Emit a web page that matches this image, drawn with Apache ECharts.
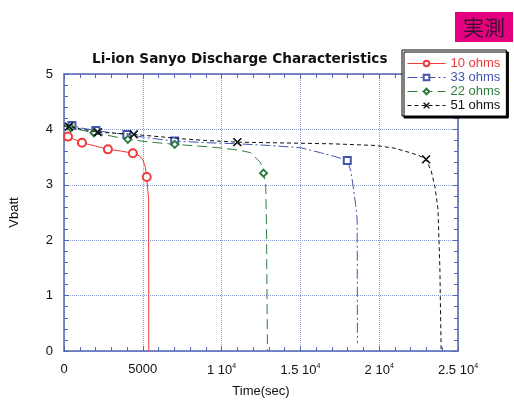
<!DOCTYPE html>
<html><head><meta charset="utf-8">
<script src="https://cdn.jsdelivr.net/npm/echarts@6/dist/echarts.min.js"></script>
<style>html,body{margin:0;padding:0;background:#fff}#c{width:514px;height:403px}</style>
</head><body><div id="c"></div>
<script>
// ---- data ----
var seriesNames = ['10 ohms', '33 ohms', '22 ohms', '51 ohms'];
var t10 = [0, 253, 1140, 2000, 2785, 3600, 4370, 4800, 5000, 5150, 5250, 5320, 5370, 5380];
var v10 = [3.92, 3.87, 3.76, 3.70, 3.64, 3.61, 3.57, 3.52, 3.45, 3.33, 3.14, 2.88, 2.76, 0];
var m10 = [0, 1, 1, 0, 1, 0, 1, 0, 0, 0, 1, 0, 0, 0];
var t33 = [0, 506, 1200, 2025, 3000, 3990, 5500, 7025, 9000, 11000, 13000, 15000, 16270, 17200, 17975, 18200, 18350, 18500, 18600, 18620];
var v33 = [4.10, 4.07, 4.02, 3.98, 3.94, 3.91, 3.84, 3.79, 3.76, 3.74, 3.71, 3.67, 3.58, 3.51, 3.44, 3.25, 2.97, 2.65, 2.38, 0.14];
var m33 = [0, 1, 0, 1, 0, 1, 0, 1, 0, 0, 0, 0, 0, 0, 1, 0, 0, 0, 0, 0];
var t22 = [0, 440, 1200, 1900, 3000, 4050, 5500, 7025, 8500, 9750, 11000, 11840, 12470, 12660, 12800, 12850, 12880, 12910];
var v22 = [4.06, 4.03, 3.98, 3.94, 3.88, 3.82, 3.77, 3.73, 3.70, 3.67, 3.63, 3.58, 3.40, 3.21, 3.0, 2.2, 1.0, 0];
var m22 = [0, 1, 0, 1, 0, 1, 0, 1, 0, 0, 0, 0, 0, 1, 0, 0, 0, 0];
var t51 = [0, 320, 1200, 2150, 3300, 4430, 6000, 7500, 9000, 11000, 13000, 15000, 17000, 19750, 21000, 21960, 22500, 22975, 23300, 23540, 23730, 23850, 23930];
var v51 = [4.07, 4.05, 4.00, 3.95, 3.93, 3.91, 3.87, 3.83, 3.80, 3.77, 3.76, 3.75, 3.74, 3.71, 3.66, 3.58, 3.53, 3.46, 3.25, 2.96, 2.56, 1.5, 0];
var m51 = [0, 1, 0, 1, 0, 1, 0, 0, 0, 1, 0, 0, 0, 0, 0, 0, 0, 1, 0, 0, 0, 0, 0];
var xTicks = {0: '0', 5000: '5000', 10000: '1 10{s|4}', 15000: '1.5 10{s|4}', 20000: '2 10{s|4}', 25000: '2.5 10{s|4}'};

// ---- chart ----
var colors = ['#f03a3a', '#4455b0', '#2e7d3e', '#111111'];
var symbols = ['emptyCircle', 'emptyRect', 'emptyDiamond',
  'path://M0,0.8L0.8,0L5,4.2L9.2,0L10,0.8L5.8,5L10,9.2L9.2,10L5,5.8L0.8,10L0,9.2L4.2,5Z'];
var dashes = ['solid', [10, 3, 2, 3], [10, 5], [4, 3]];
var sizes = [8, 7, 7, 8];
function build(t, v, m) {
  return t.map(function (x, i) {
    var d = {value: [x, v[i]]};
    if (!m[i]) d.symbol = 'none';
    return d;
  });
}
var sets = [[t10, v10, m10], [t33, v33, m33], [t22, v22, m22], [t51, v51, m51]];
var axisCol = '#5566b0';
var gridCol = '#8d9ad6';
var font = 'Liberation Sans, Arial, sans-serif';

var series = sets.map(function (s, i) {
  return {
    name: seriesNames[i], type: 'line', data: build(s[0], s[1], s[2]),
    symbol: symbols[i], symbolSize: sizes[i], showSymbol: true, showAllSymbol: true,
    color: colors[i],
    lineStyle: {color: colors[i], width: 1, type: dashes[i]},
    itemStyle: {color: colors[i], borderColor: colors[i], borderWidth: 1},
    emphasis: {disabled: true}, animation: false, z: 3 + i
  };
});

var chart = echarts.init(document.getElementById('c'), null, {renderer: 'canvas'});
chart.setOption({
  animation: false,
  backgroundColor: '#ffffff',
  title: {
    text: 'Li-ion Sanyo Discharge Characteristics', left: 87, top: 47,
    textStyle: {fontFamily: 'DejaVu Sans', fontSize: 13.6, fontWeight: 'bold', color: '#111'}
  },
  legend: {
    orient: 'vertical', left: 402, top: 50, padding: [7, 6, 4, 5],
    itemWidth: 38, itemHeight: 7, itemGap: 1,
    backgroundColor: '#fff', borderColor: '#000', borderWidth: 1,
    shadowColor: '#000', shadowOffsetX: 2, shadowOffsetY: 2, shadowBlur: 0,
    lineStyle: {width: 1},
    itemStyle: {borderWidth: 1},
    data: seriesNames.map(function (n, i) {
      return {name: n, textStyle: {color: colors[i], fontFamily: font, fontSize: 13, lineHeight: 13}};
    })
  },
  grid: {left: 63, right: 56, top: 74, bottom: 50},
  xAxis: [{
    type: 'value', min: 0, max: 25000, interval: 5000,
    name: 'Time(sec)', nameLocation: 'middle', nameGap: 34,
    nameTextStyle: {fontFamily: font, fontSize: 13, color: '#111'},
    axisLine: {onZero: false, lineStyle: {color: axisCol, width: 1.5}},
    axisTick: {inside: true, length: 5, lineStyle: {color: axisCol}},
    minorTick: {show: true, splitNumber: 5, length: 4, lineStyle: {color: axisCol}},
    splitLine: {show: true, lineStyle: {color: gridCol, type: 'dotted', width: 1}},
    axisLabel: {
      margin: 12, fontFamily: font, fontSize: 13, color: '#111',
      formatter: function (val) { return xTicks[val] !== undefined ? xTicks[val] : ''; },
      rich: {s: {fontSize: 7, verticalAlign: 'top', padding: [0, 0, 8, 0], fontFamily: font, color: '#111'}}
    }
  }, {
    type: 'value', position: 'top', min: 0, max: 25000, interval: 5000,
    axisLine: {onZero: false, lineStyle: {color: axisCol, width: 1.5}},
    axisTick: {inside: true, length: 5, lineStyle: {color: axisCol}},
    minorTick: {show: true, splitNumber: 5, length: 4, lineStyle: {color: axisCol}},
    splitLine: {show: false}, axisLabel: {show: false}
  }],
  yAxis: [{
    type: 'value', min: 0, max: 5, interval: 1,
    name: 'Vbatt', nameLocation: 'middle', nameGap: 43,
    nameTextStyle: {fontFamily: font, fontSize: 13, color: '#111'},
    axisLine: {show: true, onZero: false, lineStyle: {color: axisCol, width: 1.5}},
    axisTick: {show: true, inside: true, length: 5, lineStyle: {color: axisCol}},
    minorTick: {show: true, splitNumber: 5, length: 4, lineStyle: {color: axisCol}},
    splitLine: {show: true, lineStyle: {color: gridCol, type: 'dotted', width: 1}},
    axisLabel: {margin: 11, fontFamily: font, fontSize: 13, color: '#111'}
  }, {
    type: 'value', position: 'right', min: 0, max: 5, interval: 1,
    axisLine: {show: true, onZero: false, lineStyle: {color: axisCol, width: 1.5}},
    axisTick: {show: true, inside: true, length: 5, lineStyle: {color: axisCol}},
    minorTick: {show: true, splitNumber: 5, length: 4, lineStyle: {color: axisCol}},
    splitLine: {show: false}, axisLabel: {show: false}
  }],
  series: series,
  graphic: [
    {type: 'rect', x: 455, y: 12, z: 100, shape: {x: 0, y: 0, width: 58, height: 30}, style: {fill: '#e4007f'}},
    {type: 'text', x: 484, y: 27, z: 101,
      style: {text: '実測', align: 'center', verticalAlign: 'middle',
        font: '21px "Noto Sans CJK JP"', fill: '#3a1030'}}
  ]
});
</script></body></html>
